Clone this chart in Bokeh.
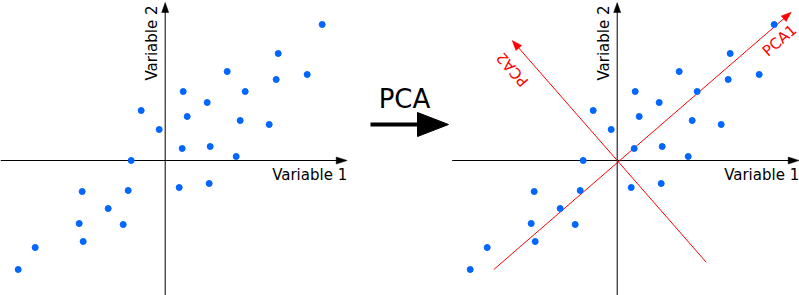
import numpy as np
from bokeh.plotting import figure
from bokeh.layouts import row
from bokeh.models import Range1d
from bokeh.core.properties import value
from bokeh.embed import file_html
from bokeh.resources import INLINE

# ---- data (1 unit = 10 px) ----
var1 = [15.7, 11.3, 6.2, 11.1, 14.2, 1.8, 8.0, 4.2, -2.4, 2.2, 7.5, 10.4, -0.6, 1.7,
        4.5, -3.4, 7.1, -8.3, -3.7, 1.4, 4.4, -5.7, -8.6, -4.2, -8.2, -13.0, -14.7]
var2 = [13.6, 10.7, 8.9, 8.1, 8.6, 6.9, 6.9, 5.8, 5.0, 4.4, 4.0, 3.6, 3.1, 1.2,
        1.4, 0.0, 0.4, -3.1, -3.0, -2.7, -2.3, -4.8, -6.3, -6.4, -8.1, -8.7, -10.9]

pca1_line = {"x": [-12.34, 17.4], "y": [-10.9, 14.83]}
pca2_line = {"x": [8.9, -10.5], "y": [-10.17, 12.0]}
pca1_label = {"x": 16.23, "y": 12.0, "text": "PCA1"}
pca2_label = {"x": -10.47, "y": 9.1, "text": "PCA2"}

axis_x_extent = [-16.5, 18.2]
axis_y_extent = [-13.6, 15.8]

FONT = value("DejaVu Sans")
BLUE = "#0066ff"
RED = "#ff0000"


def draw_arrow(p, x0, y0, x1, y1, length, width, color, lw):
    dx, dy = x1 - x0, y1 - y0
    n = np.hypot(dx, dy)
    ux, uy = dx / n, dy / n
    bx, by = x1 - ux * length, y1 - uy * length
    ox, oy = -uy * width / 2, ux * width / 2
    p.line([x0, bx + ux * 0.3], [y0, by + uy * 0.3], line_color=color, line_width=lw)
    p.patch([x1, bx + ox, bx - ox], [y1, by + oy, by - oy],
            fill_color=color, line_color=color, line_width=0.5)


def panel(width, xmin, xmax, with_pca):
    p = figure(width=width, height=295, x_range=Range1d(xmin, xmax),
               y_range=Range1d(-13.5, 16.0), min_border=0,
               x_axis_location=None, y_axis_location=None,
               toolbar_location=None, output_backend="svg")
    p.grid.visible = False
    p.outline_line_color = None
    # axes with arrows
    draw_arrow(p, max(axis_x_extent[0], xmin), 0, axis_x_extent[1], 0, 1.1, 0.7, "black", 1)
    draw_arrow(p, 0, axis_y_extent[0], 0, axis_y_extent[1], 1.0, 0.7, "black", 1)
    p.text(x=[axis_x_extent[1]], y=[-1.4], text=["Variable 1"], text_align="right",
           text_baseline="alphabetic", text_font=FONT, text_font_size="15px",
           text_color="black")
    p.text(x=[-1.35], y=[8.0], text=["Variable 2"], angle=np.pi / 2, text_align="left",
           text_baseline="alphabetic", text_font=FONT, text_font_size="15px",
           text_color="black")
    if with_pca:
        for ln, lab in ((pca1_line, pca1_label), (pca2_line, pca2_label)):
            draw_arrow(p, ln["x"][0], ln["y"][0], ln["x"][1], ln["y"][1], 1.0, 0.75, RED, 1)
            ang = np.arctan2(ln["y"][1] - ln["y"][0], ln["x"][1] - ln["x"][0])
            p.text(x=[lab["x"]], y=[lab["y"]], text=[lab["text"]], angle=ang,
                   text_align="center", text_baseline="middle", text_font=FONT,
                   text_font_size="15px", text_color=RED)
    p.scatter(var1, var2, size=6, fill_color=BLUE, line_color=BLUE)
    return p


left = panel(350, -16.47, 18.53, False)

mid = figure(width=100, height=295, x_range=Range1d(0, 100), y_range=Range1d(0, 295),
             min_border=0, x_axis_location=None, y_axis_location=None,
             toolbar_location=None, output_backend="svg")
mid.grid.visible = False
mid.outline_line_color = None
mid.text(x=[54], y=[197], text=["PCA"], text_align="center", text_baseline="alphabetic",
         text_font=FONT, text_font_size="26px", text_color="black")
mid.line([20, 68], [171, 171], line_color="black", line_width=4)
mid.patch([98, 67, 67], [171, 183, 159], fill_color="black", line_color="black")

right = panel(349, -16.67, 18.23, True)

layout = row(left, mid, right)
open("out.html", "w").write(file_html(layout, INLINE))
